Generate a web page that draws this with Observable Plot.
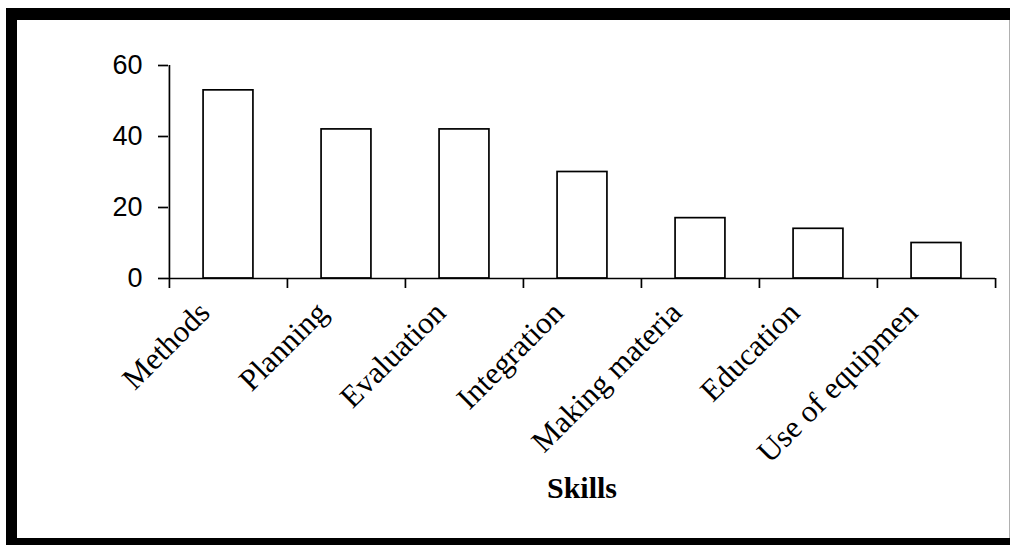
<!DOCTYPE html>
<html>
<head>
<meta charset="utf-8">
<script src="https://cdn.jsdelivr.net/npm/d3@7"></script>
<script src="https://cdn.jsdelivr.net/npm/@observablehq/plot@0.6"></script>
<style>
  html, body { margin: 0; padding: 0; background: #fff; overflow: hidden; }
  #wrap { position: relative; width: 1012px; height: 545px; overflow: hidden; background: #fff; }
  .bar { position: absolute; pointer-events: none; }
  #top { left: 6px; top: 8px; width: 1004px; height: 12px; background: #000; }
  #left { left: 6px; top: 8px; width: 11px; height: 537px; background: #000; }
  #bottom { left: 6px; top: 538px; width: 1004px; height: 7px; background: #000; }
  #right { left: 1009px; top: 20px; width: 1px; height: 518px; background: #b0b0b0; }
  #chart { position: absolute; left: 0; top: 0; }
</style>
</head>
<body>
<div id="wrap">
  <div id="chart"></div>
  <div class="bar" id="top"></div><div class="bar" id="left"></div>
  <div class="bar" id="bottom"></div><div class="bar" id="right"></div>
</div>
<script>
const categories = ["Methods", "Planning", "Evaluation", "Integration", "Making materials", "Education", "Use of equipment"];
const tickLabels = ["Methods", "Planning", "Evaluation", "Integration", "Making materia", "Education", "Use of equipmen"];
const values = [53, 42, 42, 30, 17, 14, 10];
const yTicks = [0, 20, 40, 60];
const axisTitle = "Skills";

const data = categories.map((c, i) => ({skill: c, label: tickLabels[i], value: values[i]}));

const W = 1000, H = 545, mL = 168, mR = 5, mT = 65, mB = 267;
const step = (W - mL - mR) / categories.length;
const sw = 1.7;

const chart = Plot.plot({
  width: W,
  height: H,
  marginLeft: mL,
  marginRight: mR,
  marginTop: mT,
  marginBottom: mB,
  style: {background: "transparent", color: "#000", overflow: "visible"},
  x: {type: "band", domain: categories, padding: 0, axis: null},
  y: {domain: [0, 60], axis: null},
  marks: [
    Plot.barY(data, {x: "skill", y: "value", fill: "#fff", stroke: "#000", strokeWidth: sw, insetLeft: (step - 50) / 2, insetRight: (step - 50) / 2}),
    Plot.ruleY([0], {stroke: "#000", strokeWidth: sw}),
    Plot.ruleX([categories[0]], {y1: 0, y2: 60, dx: -step / 2, stroke: "#000", strokeWidth: sw}),
    Plot.ruleX(categories, {x: d => d, y1: 0, y2: 0, insetBottom: -10, dx: -step / 2, stroke: "#000", strokeWidth: sw}),
    Plot.ruleX([categories[categories.length - 1]], {x: d => d, y1: 0, y2: 0, insetBottom: -10, dx: step / 2, stroke: "#000", strokeWidth: sw}),
    Plot.axisY({ticks: yTicks, tickSize: 10, tickPadding: 16, tickFormat: d => d, fontSize: 27, fontFamily: "Liberation Sans, Arial, sans-serif", stroke: "#000", strokeWidth: sw, label: null}),
    Plot.text(data, {x: "skill", y: 0, text: "label", rotate: -45, textAnchor: "end", lineAnchor: "bottom", dx: -17, dy: 36, fontSize: 31, fontFamily: "Liberation Serif, Times New Roman, serif", fill: "#000"}),
    Plot.text([axisTitle], {frameAnchor: "bottom", text: d => d, lineAnchor: "bottom", dy: 219, fontSize: 30, fontWeight: "bold", fontFamily: "Liberation Serif, Times New Roman, serif", fill: "#000"})
  ]
});
document.getElementById("chart").appendChild(chart);
</script>
</body>
</html>
